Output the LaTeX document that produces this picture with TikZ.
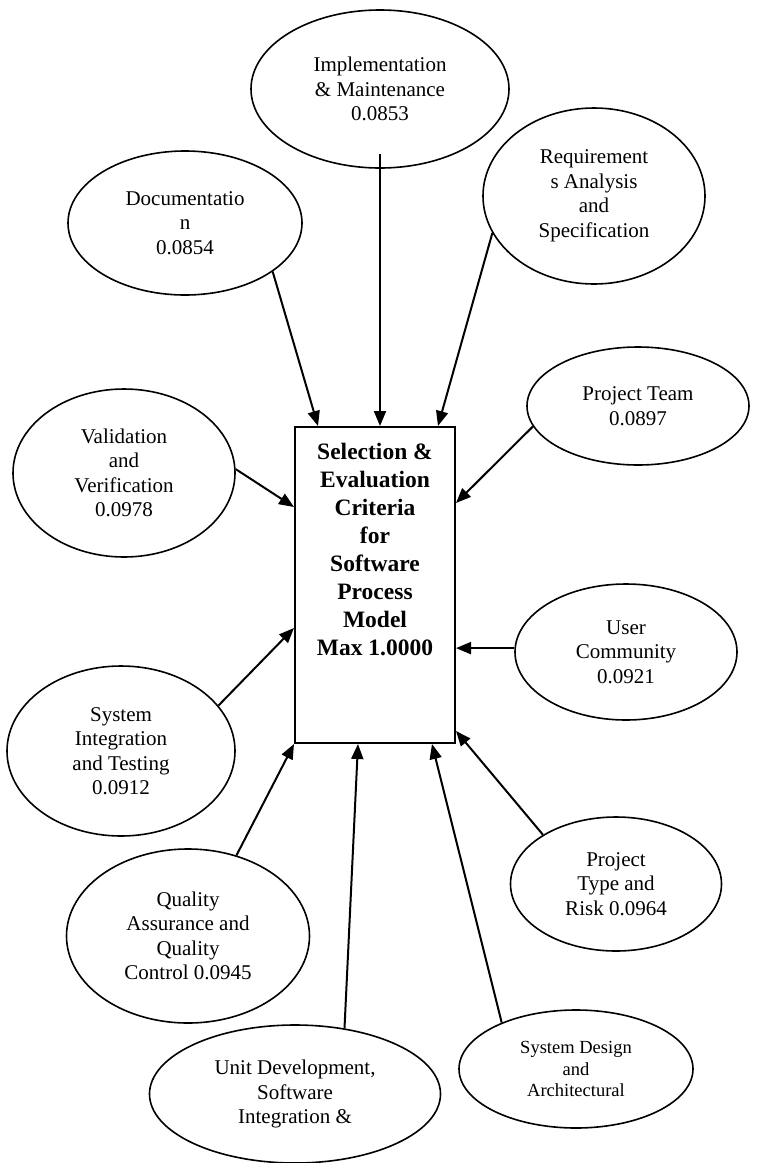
\documentclass[tikz,border=0pt]{standalone}
\usepackage{fontspec}
\setmainfont{Liberation Serif}
\usetikzlibrary{shapes.geometric,arrows.meta}

\begin{document}
\begin{tikzpicture}[x=1pt,y=-1pt,
    factor/.style={ellipse,draw,line width=1.6pt,inner sep=0pt,align=center,
        font=\fontsize{21}{24.5}\selectfont},
    model/.style={rectangle,draw,line width=2pt,minimum width=160pt,minimum height=316pt},
    modeltext/.style={align=center,font=\fontsize{23.5}{28}\selectfont\bfseries},
    arrow/.style={line width=2pt,-{Triangle[length=15pt,width=12pt]}}]
    \useasboundingbox (0,0) rectangle (758,1163);

    % central box
    \node[model] (crit) at (375,585) {};
    \node[modeltext] (critlabel) at (375,550) {Selection \&\\Evaluation\\Criteria\\for\\Software\\Process\\Model\\Max 1.0000};

    % criteria round the box
    \node[factor,minimum width=258pt,minimum height=158pt] (impl) at (380,89) {Implementation\\\& Maintenance\\0.0853};
    \node[factor,minimum width=234pt,minimum height=144pt] (doc) at (185,223) {Documentatio\\n\\0.0854};
    \node[factor,minimum width=222pt,minimum height=176pt] (req) at (594,196) {Requirement\\s Analysis\\and\\Specification};
    \node[factor,minimum width=222pt,minimum height=118pt] (pteam) at (638,406) {Project Team\\0.0897};
    \node[factor,minimum width=222pt,minimum height=168pt] (valid) at (124,473) {Validation\\and\\Verification\\0.0978};
    \node[factor,minimum width=222pt,minimum height=136pt] (user) at (626,652) {User\\Community\\0.0921};
    \node[factor,minimum width=228pt,minimum height=170pt] (sysint) at (121,751) {System\\Integration\\and Testing\\0.0912};
    \node[factor,minimum width=211pt,minimum height=134pt] (ptype) at (616,884) {Project\\Type and\\Risk 0.0964};
    \node[factor,minimum width=243pt,minimum height=174pt] (quality) at (188,936) {Quality\\Assurance and\\Quality\\Control 0.0945};
    \node[factor,minimum width=291pt,minimum height=138pt] (unit) at (295,1094) {Unit Development,\\Software\\Integration \&};
    \node[factor,minimum width=234pt,minimum height=118pt,font=\fontsize{18.5}{21.5}\selectfont] (sysdes) at (576,1069) {System Design\\and\\Architectural};

    \path[arrow]
    (doc.-29) edge ([xshift=-57pt]crit.north)
    ([yshift=15pt]impl.south) edge ([xshift=5pt]crit.north)
    (req.200) edge ([xshift=63pt]crit.north)
    (pteam.191) edge ([yshift=82pt]crit.east)
    (valid.2) edge ([yshift=78pt]crit.west)
    (user.178) edge (user.178 -| crit.east)
    (sysint.25) edge ([yshift=-43pt]crit.west)
    (quality.59) edge (crit.south west)
    (unit.53) edge ([xshift=-17pt]crit.south)
    (sysdes.148) edge ([xshift=57pt]crit.south)
    (ptype.146) edge ([yshift=13pt]crit.south east);

\end{tikzpicture}
\end{document}
